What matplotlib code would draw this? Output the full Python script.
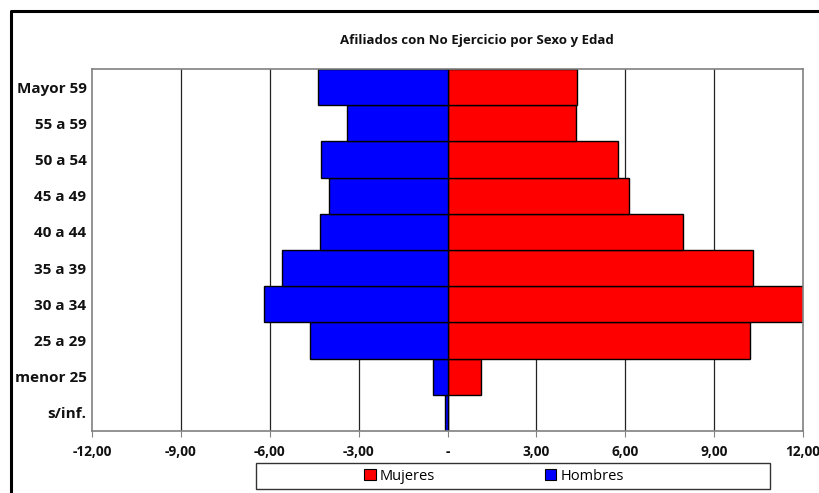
import matplotlib.pyplot as plt
from matplotlib.patches import Rectangle, Patch
from matplotlib.lines import Line2D
from matplotlib.ticker import FixedLocator, FuncFormatter

# age groups, bottom to top
grupos = ["s/inf.", "menor 25", "25 a 29", "30 a 34", "35 a 39",
          "40 a 44", "45 a 49", "50 a 54", "55 a 59", "Mayor 59"]
# percent of affiliates; men drawn on the negative side
hombres = [-0.07, -0.50, -4.63, -6.20, -5.60, -4.32, -4.00, -4.26, -3.38, -4.36]
mujeres = [0.02, 1.13, 10.20, 12.10, 10.31, 7.94, 6.12, 5.74, 4.34, 4.36]
xticks = [-12, -9, -6, -3, 0, 3, 6, 9, 12]

plt.rcParams['font.family'] = ['Open Sans', 'DejaVu Sans']

fig = plt.figure(figsize=(8.2, 4.93), dpi=100)
ax = fig.add_axes([0.1122, 0.1258, 0.8671, 0.7342])

ypos = list(range(len(grupos)))
for x in [-9, -6, -3, 3, 6, 9]:
    ax.axvline(x, color="#222222", lw=0.9, zorder=0)

ax.barh(ypos, mujeres, height=1.0, color="#ff0000", edgecolor="black", lw=1.0, zorder=2)
ax.barh(ypos, hombres, height=1.0, color="#0000ff", edgecolor="black", lw=1.0, zorder=2)

ax.set_xlim(-12, 12)
ax.set_ylim(-0.5, len(grupos) - 0.5)
ax.xaxis.set_major_locator(FixedLocator(xticks))
ax.xaxis.set_major_formatter(FuncFormatter(
    lambda v, p: "-" if v == 0 else f"{v:.2f}".replace(".", ",")))
ax.set_yticks(ypos)
ax.set_yticklabels(grupos)

for s in ax.spines.values():
    s.set_color("#808080")
    s.set_linewidth(1.2)
ax.tick_params(axis="x", direction="out", length=4, color="#808080", pad=6,
               labelsize=9.8)
ax.tick_params(axis="y", length=0, pad=4, labelsize=11)
for lbl in ax.get_xticklabels() + ax.get_yticklabels():
    lbl.set_fontweight("bold")
    lbl.set_color("#111111")

fig.text(0.582, 0.917, "Afiliados con No Ejercicio por Sexo y Edad",
         ha="center", va="center", fontsize=9.5, fontweight="bold", color="#111111")

# legend box
fig.patches.append(Rectangle((256 / 820, 1 - 489 / 493), 514 / 820, 26 / 493,
                             transform=fig.transFigure, fill=False,
                             edgecolor="#333333", lw=1.0))
handles = [Patch(facecolor="#ff0000", edgecolor="black", lw=0.8),
           Patch(facecolor="#0000ff", edgecolor="black", lw=0.8)]
fig.legend(handles, ["Mujeres", "Hombres"], loc="center", ncol=2,
           bbox_to_anchor=(494 / 820, 1 - 476 / 493), frameon=False,
           fontsize=10.5, handlelength=0.8, handleheight=0.8, handletextpad=0.3,
           columnspacing=7.5)

# outer frame (left and top edges)
fig.add_artist(Line2D([11 / 820, 11 / 820, 1.0], [0.0, 1 - 11 / 493, 1 - 11 / 493],
                      transform=fig.transFigure, color="black", lw=2.2))

fig.savefig("out.png", dpi=100)
